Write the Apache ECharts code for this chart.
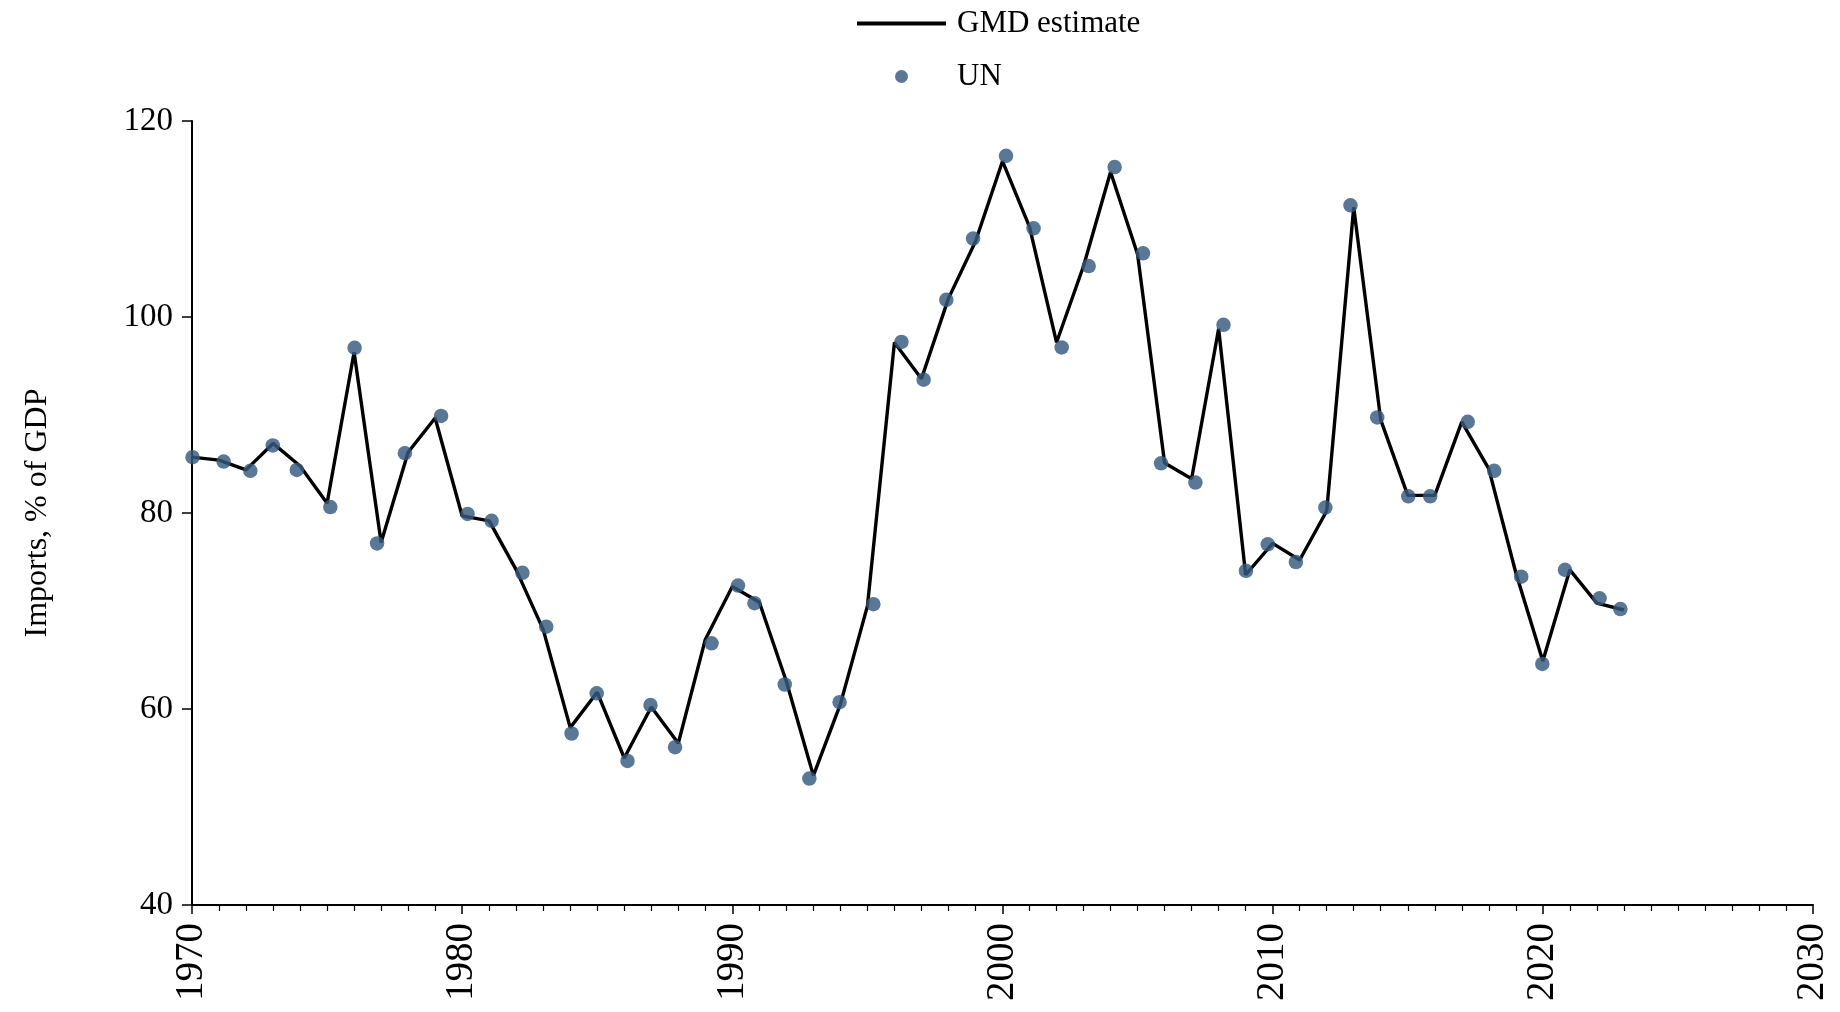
<!DOCTYPE html>
<html>
<head>
<meta charset="utf-8">
<script src="https://cdn.jsdelivr.net/npm/echarts@6/dist/echarts.min.js"></script>
<style>
html,body{margin:0;padding:0;background:#fff;}
#chart{width:1840px;height:1012px;}
</style>
</head>
<body>
<div id="chart"></div>
<script>
// GMD estimate (annual)
const years = [1970,1971,1972,1973,1974,1975,1976,1977,1978,1979,1980,1981,1982,1983,1984,1985,1986,1987,1988,1989,1990,1991,1992,1993,1994,1995,1996,1997,1998,1999,2000,2001,2002,2003,2004,2005,2006,2007,2008,2009,2010,2011,2012,2013,2014,2015,2016,2017,2018,2019,2020,2021,2022,2023];
const gmdValues = [85.7,85.4,84.4,87.1,84.8,81.0,96.4,77.0,86.2,89.7,79.7,79.2,74.2,68.1,58.1,61.7,55.0,60.2,56.5,67.1,72.5,70.9,62.8,53.2,60.5,70.5,97.4,93.7,101.9,107.7,115.9,109.2,97.4,105.2,114.8,106.4,85.1,83.5,98.8,73.7,76.9,75.2,80.2,111.2,89.5,81.8,81.8,89.3,84.5,73.9,64.9,74.2,70.8,70.1];

const unYears = [1970.02,1971.17,1972.16,1972.99,1973.88,1975.12,1976.02,1976.85,1977.88,1979.22,1980.2,1981.09,1982.23,1983.11,1984.05,1984.98,1986.12,1986.97,1987.88,1989.23,1990.21,1990.82,1991.94,1992.85,1993.97,1995.22,1996.26,1997.08,1997.92,1998.91,2000.13,2001.15,2002.19,2003.19,2004.15,2005.2,2005.87,2007.14,2008.18,2009.01,2009.82,2010.86,2011.95,2012.88,2013.87,2015.02,2015.83,2017.22,2018.2,2019.2,2019.98,2020.82,2022.1,2022.87];
const unValues = [85.7,85.25,84.3,86.9,84.4,80.6,96.85,76.9,86.1,89.9,79.9,79.2,73.9,68.4,57.5,61.6,54.7,60.4,56.1,66.7,72.6,70.8,62.5,52.9,60.7,70.7,97.45,93.6,101.75,108.0,116.45,109.05,96.9,105.2,115.3,106.5,85.07,83.1,99.2,74.1,76.8,75.0,80.55,111.4,89.75,81.7,81.7,89.3,84.3,73.5,64.6,74.2,71.3,70.2];

const yTicks = [40,60,80,100,120];
const xTickLabels = [1970,1980,1990,2000,2010,2020,2030];

const FONT = '"Liberation Serif", "DejaVu Serif", serif';

const chart = echarts.init(document.getElementById('chart'), null, {renderer:'canvas'});
chart.setOption({
  backgroundColor:'#ffffff',
  animation:false,
  textStyle:{fontFamily:FONT,color:'#000'},
  legend:{
    orient:'vertical',
    left:852,
    top:3,
    itemWidth:89,
    itemHeight:13,
    itemGap:22,
    textStyle:{fontFamily:FONT,fontSize:31,color:'#000',lineHeight:30,padding:[0,0,0,6]},
    data:[
      {name:'GMD estimate',icon:'path://M0,0L89,0L89,4L0,4Z',itemStyle:{color:'#000',opacity:1}},
      {name:'UN',icon:'circle'}
    ]
  },
  grid:{left:192,right:27,top:121,bottom:107,containLabel:false},
  xAxis:{
    type:'value',
    min:xTickLabels[0],
    max:xTickLabels[xTickLabels.length-1],
    interval:10,
    axisLine:{show:true,onZero:false,lineStyle:{color:'#000',width:2}},
    axisTick:{show:true,length:9,lineStyle:{color:'#000',width:1.5}},
    minorTick:{show:true,splitNumber:10,length:6,lineStyle:{color:'#000',width:1.2}},
    splitLine:{show:false},
    axisLabel:{rotate:90,margin:18,fontFamily:FONT,fontSize:39,color:'#000',formatter:v=>String(v)}
  },
  yAxis:{
    type:'value',
    min:yTicks[0],
    max:yTicks[yTicks.length-1],
    interval:20,
    name:'Imports, % of GDP',
    nameLocation:'middle',
    nameGap:138,
    nameTextStyle:{fontFamily:FONT,fontSize:32,color:'#000'},
    axisLine:{show:true,onZero:false,lineStyle:{color:'#000',width:2}},
    axisTick:{show:true,length:10,lineStyle:{color:'#000',width:1.5}},
    splitLine:{show:false},
    axisLabel:{margin:19,fontFamily:FONT,fontSize:33,color:'#000'}
  },
  series:[
    {
      name:'GMD estimate',
      type:'line',
      data:years.map((y,i)=>[y,gmdValues[i]]),
      symbol:'none',
      lineStyle:{color:'#000',width:3.4},
      itemStyle:{color:'#000'},
      z:2
    },
    {
      name:'UN',
      type:'scatter',
      data:unYears.map((y,i)=>[y,unValues[i]]),
      symbol:'circle',
      symbolSize:14.5,
      itemStyle:{color:'#36597f',opacity:0.82},
      z:3
    }
  ]
});
</script>
</body>
</html>
